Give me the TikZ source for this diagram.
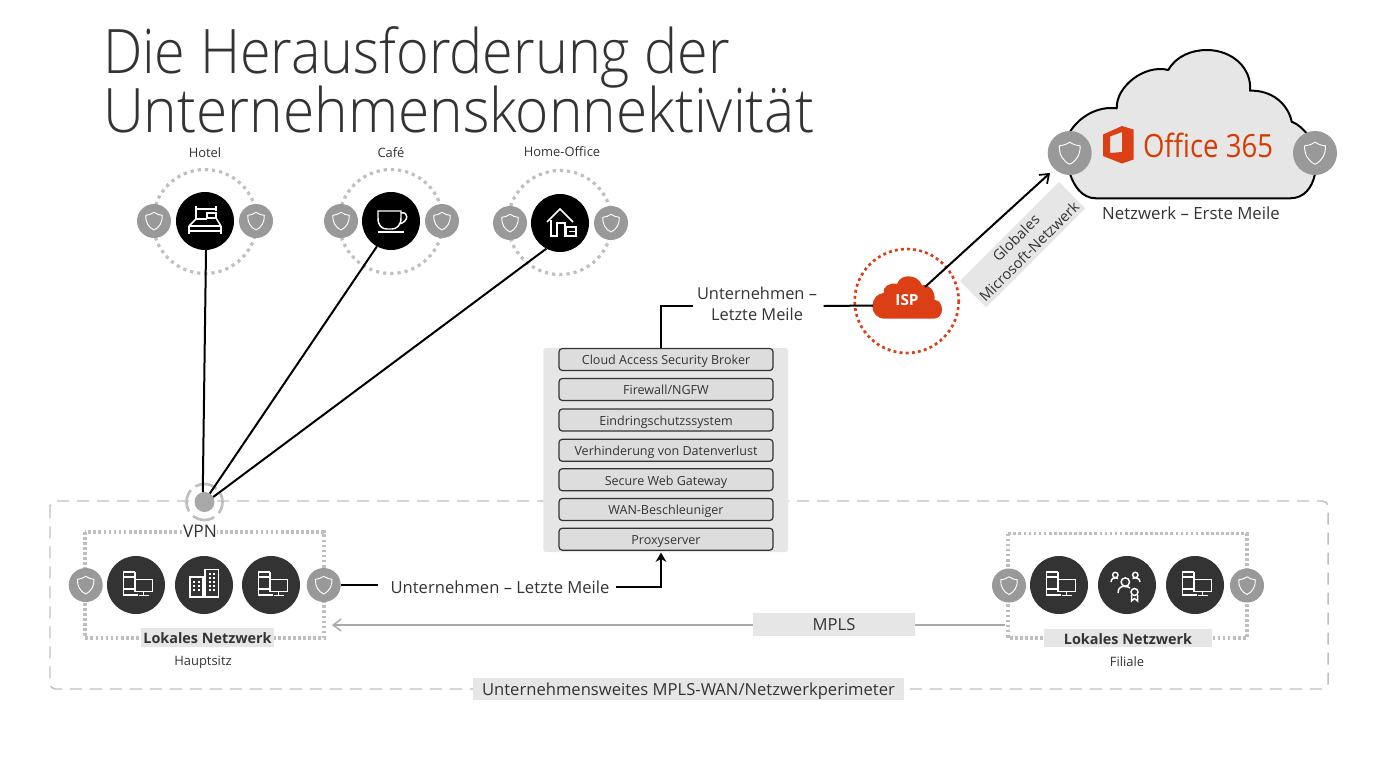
\documentclass[tikz,border=0pt]{standalone}
\usepackage{fontspec}
\setmainfont{Open Sans}
\newfontfamily\titlefont[FakeStretch=0.927]{Open Sans Light}
\newfontfamily\titlefontb[FakeStretch=0.909]{Open Sans Light}
\newfontfamily\officefont[FakeStretch=0.86]{Open Sans}
\usetikzlibrary{arrows.meta,calc}
\definecolor{txt}{HTML}{333333}
\definecolor{ttl}{HTML}{333333}
\definecolor{shgray}{HTML}{999999}
\definecolor{dotg}{HTML}{BFBFBF}
\definecolor{lbl}{HTML}{E6E6E6}
\definecolor{boxf}{HTML}{DDDDDD}
\definecolor{orng}{HTML}{DC3E15}
\definecolor{offc}{HTML}{D83B01}
\definecolor{dark}{HTML}{333333}
\tikzset{
 x=0.75pt,y=-0.75pt,
 every node/.style={text=txt,inner sep=0pt,outer sep=0pt},
 smalltxt/.style={font=\fontsize{9.7pt}{11pt}\selectfont},
 bodytxt/.style={font=\fontsize{12.45pt}{14pt}\selectfont,text height=9pt,text depth=0pt},
 shieldbg/.style={circle,fill=shgray,minimum size=25.5pt},
 shieldbig/.style={circle,fill=shgray,minimum size=33pt},
 blackc/.style={circle,fill=black,minimum size=43.5pt},
 darkc/.style={circle,fill=dark,minimum size=43.5pt},
 ring/.style={draw=dotg,line width=2.4pt,dash pattern=on 2.4pt off 3pt},
 dotbox/.style={draw=dotg,line width=2.4pt,dash pattern=on 2pt off 1.8pt},
 conn/.style={draw=black,line width=1.5pt},
 lblbox/.style={fill=lbl,font=\fontsize{10.8pt}{14pt}\selectfont\bfseries,text=txt,text height=9.5pt,text depth=0pt},
 stackbox/.style={draw=txt,line width=0.9pt,fill=boxf,rounded corners=2.5pt,minimum width=160.5pt,minimum height=16.5pt,font=\fontsize{9.4pt}{11pt}\selectfont,text height=8pt,text depth=0pt},
 wl/.style={draw=white,line width=1.1pt,line join=miter},
 shieldsmall/.pic={\draw[white,line width=0.7pt,line join=round] (0,-8.7) .. controls (3,-6.6) and (5.5,-6) .. (8.3,-5.7) .. controls (8.6,1) and (5.5,6.5) .. (0,9) .. controls (-5.5,6.5) and (-8.6,1) .. (-8.3,-5.7) .. controls (-5.5,-6) and (-3,-6.6) .. (0,-8.7) -- cycle;},
 shieldlarge/.pic={\draw[white,line width=0.7pt,line join=round,scale=1.25] (0,-8.7) .. controls (3,-6.6) and (5.5,-6) .. (8.3,-5.7) .. controls (8.6,1) and (5.5,6.5) .. (0,9) .. controls (-5.5,6.5) and (-8.6,1) .. (-8.3,-5.7) .. controls (-5.5,-6) and (-3,-6.6) .. (0,-8.7) -- cycle;},
 pcpic/.pic={
  \draw[wl] (-1,-13) -- (-12.5,-13) -- (-12.5,10) -- (2,10);
  \draw[wl] (-1,-13) -- (-1,-6);
  \draw[wl] (-12.5,-8) -- (-1,-8);
  \draw[wl] (-12.5,4) -- (-2,4);
  \draw[wl] (-1,-5.5) rectangle (16.5,6.5);
  \draw[wl] (7.5,6.5) -- (7.5,10.5) (2.5,10.5) -- (12.5,10.5);
 },
 bldpic/.pic={
  \draw[wl] (-14,-8) rectangle (-1,12);
  \draw[wl] (1,-15.5) rectangle (14.5,12);
  \foreach \a in {-10,-5.5}{\foreach \b in {-3.5,0.5,4.5}{\fill[white] (\a-1,\b-1) rectangle (\a+1,\b+1);}}
  \foreach \a in {5.5,10}{\foreach \b in {-11.5,-7.5,-3.5,0.5,4.5}{\fill[white] (\a-1,\b-1) rectangle (\a+1,\b+1);}}
 },
 bedpic/.pic={
  \draw[wl] (-9,-1) -- (-9,-15) (11,-15) -- (11,-10);
  \draw[wl] (-9,-12) -- (11,-12);
  \draw[wl] (2,-8) rectangle (11,-3);
  \draw[wl] (-9,-2) -- (-16,5) (11,-3) -- (16,5);
  \draw[wl] (-9,-2) -- (2,-2);
  \draw[wl] (-16,5) -- (16,5) (-16,5) -- (-16,13) (16,5) -- (16,13) (-16,10) -- (16,10);
 },
 cuppic/.pic={
  \draw[wl] (-13,-10) -- (10,-10) -- (10,-3) .. controls (10,5) and (5,8) .. (1,8) -- (-4,8) .. controls (-9,8) and (-13,5) .. (-13,-3) -- cycle;
  \draw[wl] (10,-8) .. controls (18,-10) and (18,1) .. (8,3);
  \draw[wl] (-13,11) -- (13,11);
 },
 housepic/.pic={
  \draw[wl] (-13,-1) -- (0,-14) -- (13,-1);
  \draw[wl] (-9,-3) -- (-9,13) -- (-3,13) -- (-3,0) -- (5,0) -- (5,13) -- (16,13);
  \draw[wl] (6,4) rectangle (16,13);
  \draw[wl] (9,8.5) -- (16,8.5);
 },
 peoplepic/.pic={
  \draw[wl] (-1.7,-3) circle (4.2);
  \draw[wl] (-11.7,-10) circle (2.7);
  \draw[wl] (8.3,-10) circle (2.7);
  \draw[wl] (-16,-3) .. controls (-16,-7) and (-12,-8) .. (-9,-6.5);
  \draw[wl] (13,-3) .. controls (13,-7) and (8,-8) .. (5.5,-6.5);
  \draw[wl] (-9,8) .. controls (-9,2) and (-5,1) .. (-2,1.5) .. controls (0,1.5) and (2,2) .. (3,3);
  \draw[wl] (7.5,7) circle (3.5);
  \draw[wl] (4.5,10) -- (4.5,16) -- (7.5,13.5) -- (10.5,16) -- (10.5,10);
 },
}
\begin{document}
\begin{tikzpicture}
\useasboundingbox (0,0) rectangle (1376,772);
% title
\node[anchor=base west,font=\titlefontb\fontsize{46pt}{46pt}\selectfont,text=ttl] (title1) at (103,73) {Die Herausforderung der};
\node[anchor=base west,font=\titlefont\fontsize{46pt}{46pt}\selectfont,text=ttl] (title2) at (103,132) {Unternehmenskonnektivität};
% perimeter
\draw[draw=dotg,line width=1.1pt,dash pattern=on 9pt off 6pt,rounded corners=4pt] (50,501) rectangle (1328,689);
\node[fill=lbl,minimum width=323pt,minimum height=16pt,bodytxt] (perim) at (688.5,689) {Unternehmensweites MPLS-WAN/Netzwerkperimeter};
% remote rings
\draw[ring] (205,221.5) circle (52);
\draw[ring] (391,221.5) circle (52);
\draw[ring] (560,222.5) circle (52);
% remote nodes
\node[smalltxt] (lhotel) at (205,153) {Hotel};
\node[smalltxt] (lcafe) at (391,153) {Café};
\node[smalltxt] (lhome) at (562,152) {Home-Office};
\node[blackc] (hotel) at (205,221) {};
\pic at (hotel.center) {bedpic};
\node[shieldbg] (hs1) at (154,221) {}; \pic at (hs1.center) {shieldsmall};
\node[shieldbg] (hs2) at (256,221) {}; \pic at (hs2.center) {shieldsmall};
\node[blackc] (cafe) at (391,221) {};
\pic at (cafe.center) {cuppic};
\node[shieldbg] (cs1) at (341,221) {}; \pic at (cs1.center) {shieldsmall};
\node[shieldbg] (cs2) at (442,221) {}; \pic at (cs2.center) {shieldsmall};
\node[blackc] (home) at (560,223) {};
\pic at (home.center) {housepic};
\node[shieldbg] (os1) at (510,223) {}; \pic at (os1.center) {shieldsmall};
\node[shieldbg] (os2) at (611,223) {}; \pic at (os2.center) {shieldsmall};
% VPN
\node[circle,fill=shgray!85,minimum size=15pt] (vpn) at (204.5,502) {};
\draw[draw=dotg,line width=2pt,dash pattern=on 17pt off 4.5pt,dash phase=8pt] (204.5,502) circle (18);
\draw[conn] (hotel.272) -- (vpn.100);
\draw[conn] (cafe.241) -- (vpn.58);
\draw[conn] (home.242) -- (vpn.30);
% cloud
\draw[draw=black,line width=1.5pt,fill=lbl,line join=round]
 (1070,131.7) .. controls (1080,116) and (1098,106) .. (1116.7,108.3)
 .. controls (1116,86) and (1145,64) .. (1168.3,70)
 .. controls (1176,56) and (1192,50) .. (1206.7,50)
 .. controls (1232,50) and (1252,68) .. (1250,90.7)
 .. controls (1272,90) and (1288,104) .. (1291.7,121.7)
 .. controls (1298,124) and (1303,129) .. (1308,135)
 -- (1315,174)
 .. controls (1312,188) and (1304,198.3) .. (1290,198.3)
 -- (1096,198.3)
 .. controls (1082,198.3) and (1074,186) .. (1070,174) -- cycle;
\node[shieldbig] (ms1) at (1069.7,153) {}; \pic at (ms1.center) {shieldlarge};
\node[shieldbig] (ms2) at (1315,153) {}; \pic at (ms2.center) {shieldlarge};
\fill[orng,even odd rule] (1103,134.5) -- (1122,126) -- (1133.5,129.5) -- (1133.5,159.5) -- (1122,163.5) -- (1103,156) -- cycle
 (1122,132) -- (1110,136.5) -- (1110,153) -- (1122,152) -- cycle;
\node[anchor=west,font=\officefont\fontsize{24pt}{26pt}\selectfont,text=offc] (o365) at (1143,145) {Office 365};
\node[font=\fontsize{12.6pt}{14pt}\selectfont] (lnet) at (1191,213) {Netzwerk – Erste Meile};
% ISP
\draw[draw=orng,line width=2pt,dash pattern=on 2.2pt off 2.4pt] (906.7,301) circle (52);
\begin{scope}[shift={(907,297)}]
\fill[orng] (-21.7,21.7) .. controls (-30,21.7) and (-34.7,16) .. (-34.7,9) .. controls (-34.7,2) and (-29,-4) .. (-23.3,-4)
 .. controls (-25,-10) and (-17,-15) .. (-10,-13) .. controls (-8,-19) and (-3,-20.7) .. (1.7,-20.7)
 .. controls (8,-20.7) and (13,-17) .. (15,-11.7) .. controls (22,-13) and (28,-7) .. (27.7,3)
 .. controls (32,3) and (35,7) .. (35,13) .. controls (35,18) and (31,21.7) .. (27,21.7) -- cycle;
\end{scope}
\node[text=white,font=\fontsize{11.5pt}{14pt}\selectfont\bfseries] (isp) at (907,300) {ISP};
\coordinate (ispin) at (873,305.5);
\coordinate (ispout) at (925,287);
\coordinate (cloudin) at (1050,173);
\draw[conn,-{Straight Barb[length=6pt,width=9pt,line width=1.3pt]}] (ispout) -- (cloudin);
\node[rotate=45,fill=lbl,minimum width=105pt,minimum height=28pt,align=center,font=\fontsize{11pt}{14pt}\selectfont] (gmn) at (1022.5,244.7) {Globales\\Microsoft-Netzwerk};
% stack
\node[fill=lbl,rounded corners=2pt,minimum width=183.5pt,minimum height=153pt] (stack) at (665.7,450) {};
\node[stackbox] (b1) at (666,359.5) {Cloud Access Security Broker};
\node[stackbox] (b2) at (666,389.5) {Firewall/NGFW};
\node[stackbox] (b3) at (666,420) {Eindringschutzssystem};
\node[stackbox] (b4) at (666,450.3) {Verhinderung von Datenverlust};
\node[stackbox] (b5) at (666,479.7) {Secure Web Gateway};
\node[stackbox] (b6) at (666,509.5) {WAN-Beschleuniger};
\node[stackbox] (b7) at (666,539.2) {Proxyserver};
\coordinate (stacktop) at (661,348);
\coordinate (stackbot) at (661,552.5);
% upper label
\node[align=center,font=\fontsize{12.3pt}{16pt}\selectfont] (um2) at (757,304) {Unternehmen –\\Letzte Meile};
\draw[conn] (stacktop) |- ([yshift=-1.5pt,xshift=-3pt]um2.west);
\draw[conn] ([yshift=-1.5pt,xshift=5pt]um2.east) -- (ispin);
% left network
\draw[dotbox] (85,532) rectangle (324,638);
\node[fill=white,font=\fontsize{13pt}{15pt}\selectfont,inner xsep=0pt] (vpnl) at (200,531) {VPN};
\node[shieldbg] (ls1) at (85.7,585) {}; \pic at (ls1.center) {shieldsmall};
\node[darkc] (lc1) at (136,585) {}; \pic at (lc1.center) {pcpic};
\node[darkc] (lc2) at (204,585) {}; \pic at (lc2.center) {bldpic};
\node[darkc] (lc3) at (271,585) {}; \pic at (lc3.center) {pcpic};
\node[shieldbg] (ls2) at (323.7,585) {}; \pic at (ls2.center) {shieldsmall};
\node[lblbox,minimum width=100pt,minimum height=14.5pt] (lnl) at (207.5,637.5) {Lokales Netzwerk};
\node[smalltxt] (hq) at (203,662) {Hauptsitz};
% right network
\draw[dotbox] (1008,533.5) rectangle (1247,638);
\node[shieldbg] (rs1) at (1009,585.5) {}; \pic at (rs1.center) {shieldsmall};
\node[darkc] (rc1) at (1059,585) {}; \pic at (rc1.center) {pcpic};
\node[darkc] (rc2) at (1127,585) {}; \pic at (rc2.center) {peoplepic};
\node[darkc] (rc3) at (1195,585) {}; \pic at (rc3.center) {pcpic};
\node[shieldbg] (rs2) at (1247,585.5) {}; \pic at (rs2.center) {shieldsmall};
\node[lblbox,minimum width=126pt,minimum height=13.5pt] (rnl) at (1128,638) {Lokales Netzwerk};
\node[smalltxt] (fil) at (1127,661.5) {Filiale};
% last mile lower
\node[bodytxt] (um1) at (500,587) {Unternehmen – Letzte Meile};
\draw[conn] (ls2.east) -- ++(37,0);
\draw[conn,-{Stealth[length=7pt,width=8pt]}] ([xshift=5pt]um1.east) -| (stackbot);
% MPLS
\coordinate (mplsfrom) at (1005,625);
\coordinate (mplsto) at (332,625);
\draw[draw=shgray!85,line width=1.3pt,-{Straight Barb[length=6pt,width=9pt,line width=1.1pt]}] (mplsfrom) -- (mplsto);
\node[fill=lbl,minimum width=121.5pt,minimum height=17pt,bodytxt] (mpls) at (834,624.5) {MPLS};
\end{tikzpicture}
\end{document}
